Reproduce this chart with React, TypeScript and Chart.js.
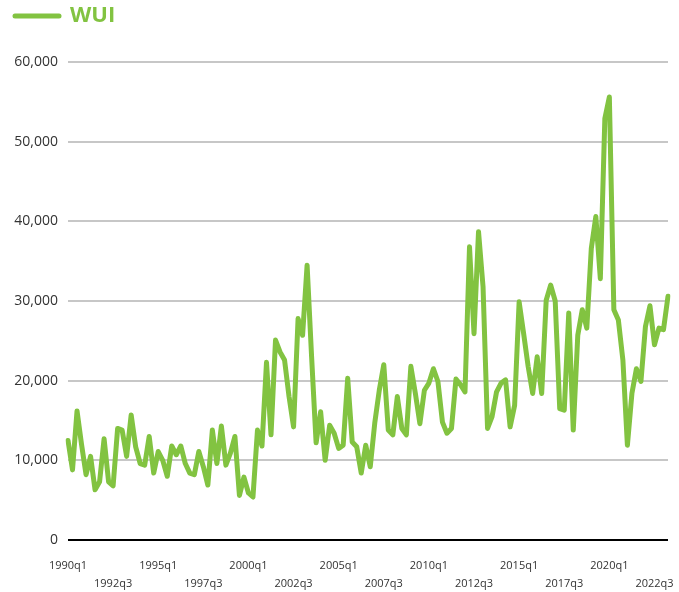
import React, { useEffect, useRef } from "react";
import { Chart, registerables } from "chart.js";

Chart.register(...registerables);

const GREEN = "rgb(130,195,65)";
const SERIES_NAME = "WUI";

const START_YEAR = 1990;
const N_QUARTERS = 134; // 1990q1 .. 2023q2
const categories: string[] = [];
for (let i = 0; i < N_QUARTERS; i++) {
  categories.push(`${START_YEAR + Math.floor(i / 4)}q${(i % 4) + 1}`);
}

// WUI values (thousands)
const wuiThousands: number[] = [
  12.5, 8.8, 16.2, 12.0, 8.2, 10.5, 6.3, 7.3, 12.7, 7.3,
  6.8, 14.0, 13.8, 10.5, 15.7, 11.7, 9.6, 9.4, 13.0, 8.4,
  11.1, 10.0, 8.0, 11.8, 10.7, 11.8, 9.6, 8.4, 8.2, 11.1,
  9.2, 6.9, 13.8, 9.6, 14.3, 9.4, 10.9, 13.0, 5.6, 7.9,
  5.9, 5.4, 13.8, 11.8, 22.3, 13.2, 25.1, 23.6, 22.6, 18.0,
  14.2, 27.8, 25.7, 34.5, 23.0, 12.2, 16.1, 10.0, 14.4, 13.4,
  11.5, 11.9, 20.3, 12.3, 11.7, 8.4, 11.9, 9.2, 14.7, 18.8,
  22.0, 13.8, 13.2, 18.0, 14.0, 13.2, 21.8, 18.4, 14.6, 18.8,
  19.7, 21.5, 19.9, 14.8, 13.4, 14.0, 20.2, 19.5, 18.6, 36.8,
  25.9, 38.7, 31.8, 14.0, 15.5, 18.6, 19.7, 20.1, 14.2, 16.9,
  29.9, 25.9, 21.8, 18.4, 23.0, 18.4, 30.1, 32.0, 30.0, 16.5,
  16.3, 28.5, 13.8, 25.7, 28.9, 26.6, 36.6, 40.6, 32.8, 52.9,
  55.6, 28.9, 27.6, 22.6, 11.9, 18.4, 21.5, 19.9, 26.8, 29.4,
  24.5, 26.6, 26.4, 30.6,
];
const wuiValues: number[] = wuiThousands.map((v) => v * 1000);

const Y_MIN = 0;
const Y_MAX = 60000;
const Y_STEP = 10000;
const LABEL_EVERY = 10;

const legendSpace = {
  id: "legendSpace",
  beforeLayout(chart: any) {
    const lg = chart.legend;
    if (lg && !lg._patchedFit) {
      const orig = lg.fit;
      lg.fit = function () {
        orig.call(this);
        this.height = 62;
      };
      lg._patchedFit = true;
    }
  },
};

export default function App() {
  const ref = useRef<HTMLCanvasElement>(null);

  useEffect(() => {
    if (!ref.current) return;
    Chart.defaults.font.family = "'Open Sans', 'Noto Sans', sans-serif";
    const chart = new Chart(ref.current, {
      type: "line",
      data: {
        labels: categories,
        datasets: [
          {
            label: SERIES_NAME,
            data: wuiValues,
            borderColor: GREEN,
            backgroundColor: GREEN,
            borderWidth: 5,
            borderJoinStyle: "round",
            borderCapStyle: "round",
            pointRadius: 0,
            pointHoverRadius: 0,
            tension: 0,
            fill: false,
          },
        ],
      },
      options: {
        responsive: false,
        animation: false,
        layout: { padding: { left: 10, right: 11, top: 0, bottom: 0 } },
        plugins: {
          tooltip: { enabled: false },
          legend: {
            display: true,
            position: "top",
            align: "start",
            labels: {
              usePointStyle: true,
              pointStyleWidth: 44,
              padding: 5,
              font: { size: 22, weight: "bold" },
              color: GREEN,
              generateLabels: () => [
                {
                  text: SERIES_NAME,
                  fillStyle: GREEN,
                  strokeStyle: GREEN,
                  fontColor: GREEN,
                  lineWidth: 5,
                  lineCap: "round",
                  pointStyle: "line",
                  hidden: false,
                  datasetIndex: 0,
                } as any,
              ],
            },
          },
        },
        scales: {
          x: {
            type: "category",
            offset: false,
            grid: { display: false, drawTicks: true, tickLength: 16.3 },
            border: { display: false },
            ticks: {
              autoSkip: false,
              maxRotation: 0,
              minRotation: 0,
              padding: 0,
              color: "#333",
              font: { size: 11, lineHeight: 1.68 },
              callback: (_v: any, index: number) => {
                if (index % LABEL_EVERY !== 0) return "";
                const lab = categories[index];
                return (index / LABEL_EVERY) % 2 === 0 ? lab : ["", lab];
              },
            },
            afterFit: (scale: any) => {
              scale.height = 52;
            },
          },
          y: {
            min: Y_MIN,
            max: Y_MAX,
            z: 1,
            border: { display: false },
            grid: {
              drawTicks: false,
              lineWidth: 2,
              color: (ctx: any) =>
                ctx.tick && ctx.tick.value === 0 ? "#000" : "rgba(0,0,0,0.22)",
            },
            ticks: {
              stepSize: Y_STEP,
              padding: 10,
              color: "#333",
              font: { size: 14 },
            },
            afterFit: (scale: any) => {
              scale.width = 58;
            },
          },
        },
      },
      plugins: [legendSpace],
    });
    return () => chart.destroy();
  }, []);

  return (
    <canvas
      ref={ref}
      width={679}
      height={592}
      style={{ position: "fixed", left: 0, top: 0, display: "block" }}
    />
  );
}
